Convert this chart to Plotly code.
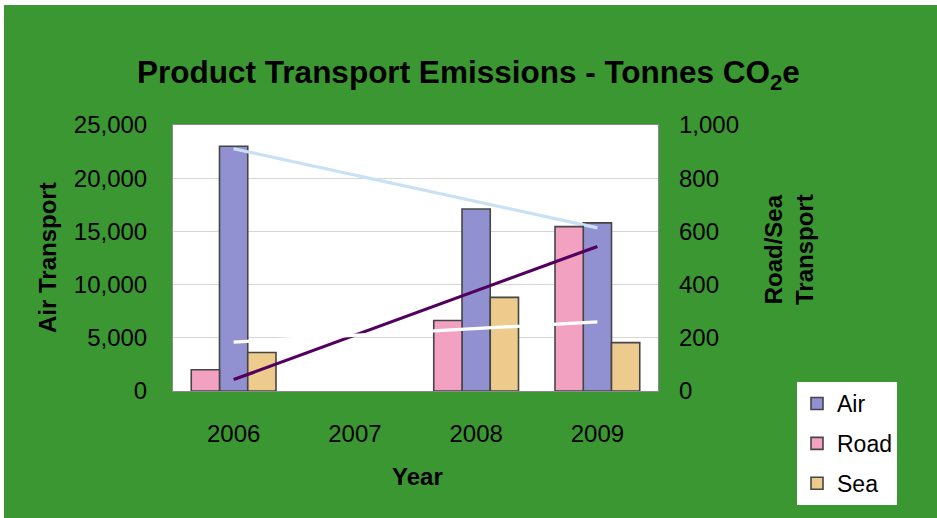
import numpy as np
import plotly.graph_objects as go

# Emissions by transport mode (tonnes CO2e); 2007 has no recorded data
years = ["2006", "2007", "2008", "2009"]
air = [23000, None, 17100, 15800]
road = [80, None, 265, 618]
sea = [145, None, 352, 182]

left_ticks = [0, 5000, 10000, 15000, 20000, 25000]
right_ticks = [0, 200, 400, 600, 800, 1000]

FONT = "Liberation Sans, Arial, sans-serif"
GREEN = "#3b9731"
OUTLINE = "#454545"

# page and plot-area geometry (pixels)
W, H = 937, 518
L, R, T, B = 173, 279, 125, 127
PW, PH = W - L - R, H - T - B


def px_x(px):
    return (px - L) / PW


def px_y(py):
    return (H - B - py) / PH


def trend(values):
    """Least-squares linear trend over the years that have data."""
    pos = np.array([i for i, v in enumerate(values) if v is not None], float)
    val = np.array([v for v in values if v is not None], float)
    slope, icpt = np.polyfit(pos, val, 1)
    ends = np.array([pos.min(), pos.max()])
    return [years[int(p)] for p in ends], list(slope * ends + icpt)


fig = go.Figure()

bar_w = 0.233
bars = [
    ("Air", air, "y", "#9191d1", -bar_w / 2),
    ("Road", road, "y2", "#f2a2c0", -1.5 * bar_w),
    ("Sea", sea, "y2", "#eccb8c", bar_w / 2),
]
for name, vals, axis, color, off in bars:
    fig.add_trace(go.Bar(
        name=name, x=years, y=vals, yaxis=axis,
        width=bar_w, offset=off, legendgroup=name,
        marker=dict(color=color, line=dict(color=OUTLINE, width=1.6)),
    ))

# linear trend lines for each mode
for vals, axis, color in [(air, "y", "#c9e1f2"), (road, "y2", "#52005e"), (sea, "y2", "#ffffff")]:
    tx, ty = trend(vals)
    fig.add_trace(go.Scatter(
        x=tx, y=ty, yaxis=axis, mode="lines", showlegend=False,
        line=dict(color=color, width=3.2), hoverinfo="skip",
    ))

tick_font = dict(family=FONT, size=24, color="#000000")
title_font = dict(family=FONT, size=24, color="#000000")

fig.update_layout(
    width=W, height=H,
    margin=dict(l=L, r=R, t=T, b=B),
    paper_bgcolor=GREEN,
    plot_bgcolor="#ffffff",
    barmode="overlay",
    title=dict(
        text="<b>Product Transport Emissions - Tonnes CO<sub>2</sub>e</b>",
        font=dict(family=FONT, size=31.5, color="#000000"),
        x=0.5, xanchor="center", xref="container",
        y=1 - 72 / H, yanchor="middle", yref="container",
    ),
    xaxis=dict(
        type="category", categoryorder="array", categoryarray=years,
        tickfont=tick_font, ticks="", ticklabelstandoff=21,
        showline=True, linecolor="#8a8a8a", linewidth=1, mirror=True,
        showgrid=False, zeroline=False, fixedrange=True,
    ),
    yaxis=dict(
        range=[0, 25000], tickvals=left_ticks, tickformat=",d",
        tickfont=tick_font, ticks="", ticklabelstandoff=20,
        showgrid=True, gridcolor="#d6d6d6", gridwidth=1.2,
        showline=True, linecolor="#8a8a8a", linewidth=1, mirror=True,
        zeroline=False,
    ),
    yaxis2=dict(
        range=[0, 1000], tickvals=right_ticks, tickformat=",d",
        overlaying="y", side="right",
        tickfont=tick_font, ticks="", ticklabelstandoff=20,
        showgrid=False, zeroline=False, showline=False,
    ),
    legend=dict(
        x=px_x(797), y=px_y(382), xanchor="left", yanchor="top",
        bgcolor="#ffffff", borderwidth=0,
        font=dict(family=FONT, size=23, color="#000000"),
        traceorder="grouped", tracegroupgap=7,
        itemwidth=30,
    ),
    shapes=[
        dict(type="rect", xref="paper", yref="paper", layer="below",
             x0=px_x(0), x1=px_x(W), y0=px_y(0), y1=px_y(5),
             fillcolor="#ffffff", line=dict(width=0)),
        dict(type="rect", xref="paper", yref="paper", layer="below",
             x0=px_x(0), x1=px_x(4), y0=px_y(H), y1=px_y(0),
             fillcolor="#ffffff", line=dict(width=0)),
    ],
    annotations=[
        dict(text="<b>Air Transport</b>", textangle=-90,
             xref="paper", yref="paper", x=px_x(47), y=px_y(257),
             xanchor="center", yanchor="middle", showarrow=False, font=title_font),
        dict(text="<b>Road/Sea<br>Transport</b>", textangle=-90,
             xref="paper", yref="paper", x=px_x(789), y=px_y(250),
             xanchor="center", yanchor="middle", showarrow=False, font=title_font),
        dict(text="<b>Year</b>",
             xref="paper", yref="paper", x=px_x(417), y=px_y(476),
             xanchor="center", yanchor="middle", showarrow=False, font=title_font),
    ],
)

fig.write_html("out.html")
